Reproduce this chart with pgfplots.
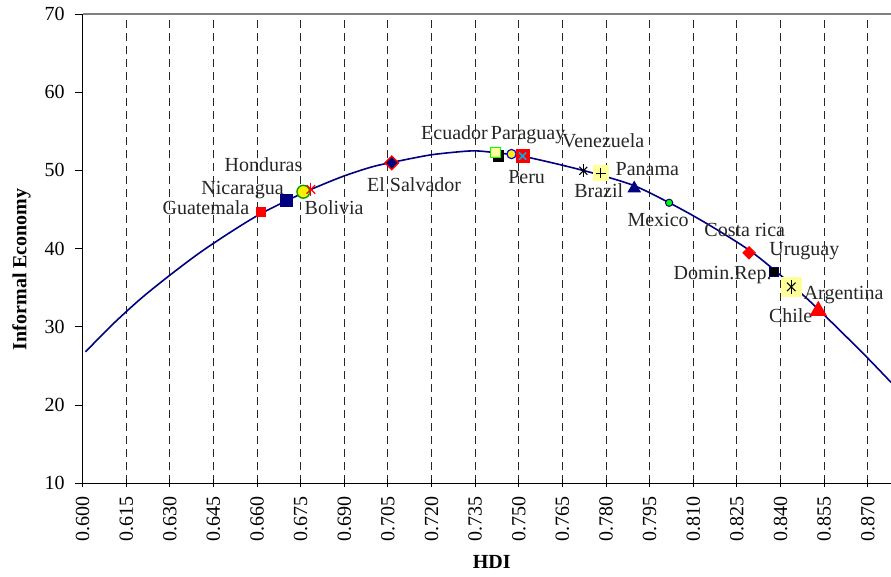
\documentclass[border=0pt]{standalone}
\usepackage{pgfplots}
\pgfplotsset{compat=1.18}
\usepackage{fontspec}
\setmainfont{Liberation Serif}
\definecolor{navy}{RGB}{0,0,128}
\definecolor{lightyel}{RGB}{255,255,153}
\definecolor{brgreen}{RGB}{0,255,0}
\definecolor{hgreen}{RGB}{0,160,0}
\begin{document}
\begin{tikzpicture}
\path[use as bounding box] (-41.3pt,-46.5pt) rectangle (404pt,241.5pt);
\begin{axis}[
  scale only axis, width=404pt, height=234.5pt,
  at={(0,0)}, anchor=south west,
  xmin=0.600, xmax=0.878, ymin=10, ymax=70,
  axis x line*=bottom, axis y line*=left,
  axis line style={black, line width=0.6pt},
  xtick={0.600,0.615,0.630,0.645,0.660,0.675,0.690,0.705,0.720,0.735,0.750,0.765,0.780,0.795,0.810,0.825,0.840,0.855,0.870},
  ytick={10,20,30,40,50,60,70},
  scaled x ticks=false,
  xtick align=center, ytick align=outside,
  major tick length=4pt,
  tick style={black, line width=0.5pt},
  xticklabel style={rotate=90, anchor=east, font=\fontsize{10}{12}\selectfont, xshift=-1pt},
  yticklabel style={font=\fontsize{10}{12}\selectfont, xshift=-1.5pt},
  /pgf/number format/assume math mode=true,
  xticklabel={\pgfmathprintnumber[fixed, fixed zerofill, precision=3]{\tick}},
  xmajorgrids,
  major x grid style={black!85, line width=0.5pt, dash pattern=on 4pt off 2.5pt},
  xlabel={\textbf{HDI}},
  ylabel={\textbf{Informal Economy}},
  xlabel style={at={(axis description cs:0.506,-0.168)}, anchor=center, font=\fontsize{10}{12}\selectfont},
  ylabel style={at={(axis description cs:-0.0755,0.456)}, anchor=center, font=\fontsize{10}{12}\selectfont},
  clip=false,
  label style={inner sep=0pt},
]
\draw[gray, line width=0.8pt] (rel axis cs:0,1) -- (rel axis cs:1,1);
% fitted curve
\addplot[navy, line width=0.8pt, mark=none, smooth] coordinates {
(0.601,26.8) (0.61,30.2) (0.62,33.6) (0.63,36.6) (0.64,39.4) (0.65,41.9) (0.66,44.2)
(0.67,46.1) (0.68,47.8) (0.69,49.3) (0.70,50.5) (0.71,51.3) (0.72,52.0) (0.73,52.4)
(0.735,52.5) (0.74,52.35) (0.75,51.9) (0.76,51.1) (0.77,50.2) (0.78,49.2) (0.79,48.0)
(0.80,46.2) (0.81,44.2) (0.82,42.0) (0.83,39.6) (0.84,36.6) (0.85,33.3) (0.86,29.7)
(0.87,26.0) (0.878,22.9)};
% Guatemala
\addplot[only marks, mark=square*, mark size=2.1pt, mark options={draw=red, fill=red}] coordinates {(0.6613,44.71)};
% Nicaragua
\addplot[only marks, mark=square*, mark size=3pt, mark options={draw=navy, fill=navy}] coordinates {(0.6702,46.11)};
% Honduras
\addplot[only marks, mark=*, mark size=3.2pt, mark options={draw=hgreen, fill=yellow, line width=0.7pt}] coordinates {(0.6759,47.27)};
% Bolivia
\addplot[only marks, mark=x, mark size=3pt, mark options={draw=red, line width=0.6pt}] coordinates {(0.6785,47.57)};
\addplot[only marks, mark=|, mark size=3.4pt, mark options={draw=red, line width=0.6pt}] coordinates {(0.6785,47.57)};
% El Salvador
\addplot[only marks, mark=square*, mark size=2.4pt, mark options={rotate=45, draw=red, fill=navy, line width=0.7pt}] coordinates {(0.7063,50.97)};
% shadow square
\addplot[only marks, mark=square*, mark size=2.6pt, mark options={draw=black, fill=black}] coordinates {(0.7429,51.83)};
% Ecuador
\addplot[only marks, mark=square*, mark size=2.5pt, mark options={draw=brgreen, fill=lightyel, line width=0.8pt}] coordinates {(0.7420,52.28)};
% Paraguay
\addplot[only marks, mark=*, mark size=2.3pt, mark options={draw=blue, fill=yellow, line width=0.6pt}] coordinates {(0.7475,52.09)};
% Peru
\addplot[only marks, mark=square*, mark size=3.2pt, mark options={draw=red, fill=red}] coordinates {(0.7513,51.83)};
\addplot[only marks, mark=x, mark size=2.5pt, mark options={draw=cyan, line width=0.8pt}] coordinates {(0.7513,51.83)};
% Venezuela
\addplot[only marks, mark=x, mark size=2.8pt, mark options={draw=black, line width=0.5pt}] coordinates {(0.7722,49.95)};
\addplot[only marks, mark=|, mark size=3.2pt, mark options={draw=black, line width=0.5pt}] coordinates {(0.7722,49.95)};
% Brazil
\addplot[only marks, mark=square*, mark size=3.7pt, mark options={draw=lightyel, fill=lightyel}] coordinates {(0.7782,49.66)};
\addplot[only marks, mark=+, mark size=2.6pt, mark options={draw=black, line width=0.5pt}] coordinates {(0.7782,49.66)};
% Panama
\addplot[only marks, mark=triangle*, mark size=3.5pt, mark options={draw=navy, fill=navy}] coordinates {(0.7897,47.70)};
% Mexico
\addplot[only marks, mark=*, mark size=1.8pt, mark options={draw=navy, fill=brgreen, line width=0.5pt}] coordinates {(0.8017,45.86)};
% Costa Rica
\addplot[only marks, mark=square*, mark size=2.2pt, mark options={rotate=45, draw=red, fill=red}] coordinates {(0.8292,39.46)};
% Domin. Rep.
\addplot[only marks, mark=square*, mark size=2.1pt, mark options={draw=navy, fill=black, line width=0.5pt}] coordinates {(0.8378,37.03)};
% Argentina
\addplot[only marks, mark=square*, mark size=4.9pt, mark options={draw=lightyel, fill=lightyel}] coordinates {(0.8437,35.11)};
\addplot[only marks, mark=x, mark size=3pt, mark options={draw=black, line width=0.5pt}] coordinates {(0.8437,35.11)};
\addplot[only marks, mark=|, mark size=3.4pt, mark options={draw=black, line width=0.5pt}] coordinates {(0.8437,35.11)};
% Chile
\addplot[only marks, mark=triangle*, mark size=4.6pt, mark options={draw=red, fill=red}] coordinates {(0.8530,32.04)};
% labels
\begin{scope}[every node/.style={anchor=base, inner sep=0pt, font=\fontsize{10}{12}\selectfont, text=black!85}]
\node at (axis cs:0.6424,44.41) {Guatemala};
\node at (axis cs:0.6550,46.97) {Nicaragua};
\node at (axis cs:0.6622,49.82) {Honduras};
\node at (axis cs:0.6865,44.41) {Bolivia};
\node at (axis cs:0.7140,47.35) {El Salvador};
\node at (axis cs:0.7279,53.97) {Ecuador};
\node at (axis cs:0.7532,53.97) {Paraguay};
\node at (axis cs:0.7790,52.94) {Venezuela};
\node at (axis cs:0.7527,48.34) {Peru};
\node at (axis cs:0.7775,46.55) {Brazil};
\node at (axis cs:0.7942,49.40) {Panama};
\node at (axis cs:0.7979,42.88) {Mexico};
\node at (axis cs:0.8277,41.51) {Costa rica};
\node at (axis cs:0.8482,39.17) {Uruguay};
\node at (axis cs:0.8201,36.06) {Domin.Rep.};
\node at (axis cs:0.8617,33.50) {Argentina};
\node at (axis cs:0.8435,30.56) {Chile};
\end{scope}
\end{axis}
\end{tikzpicture}
\end{document}
